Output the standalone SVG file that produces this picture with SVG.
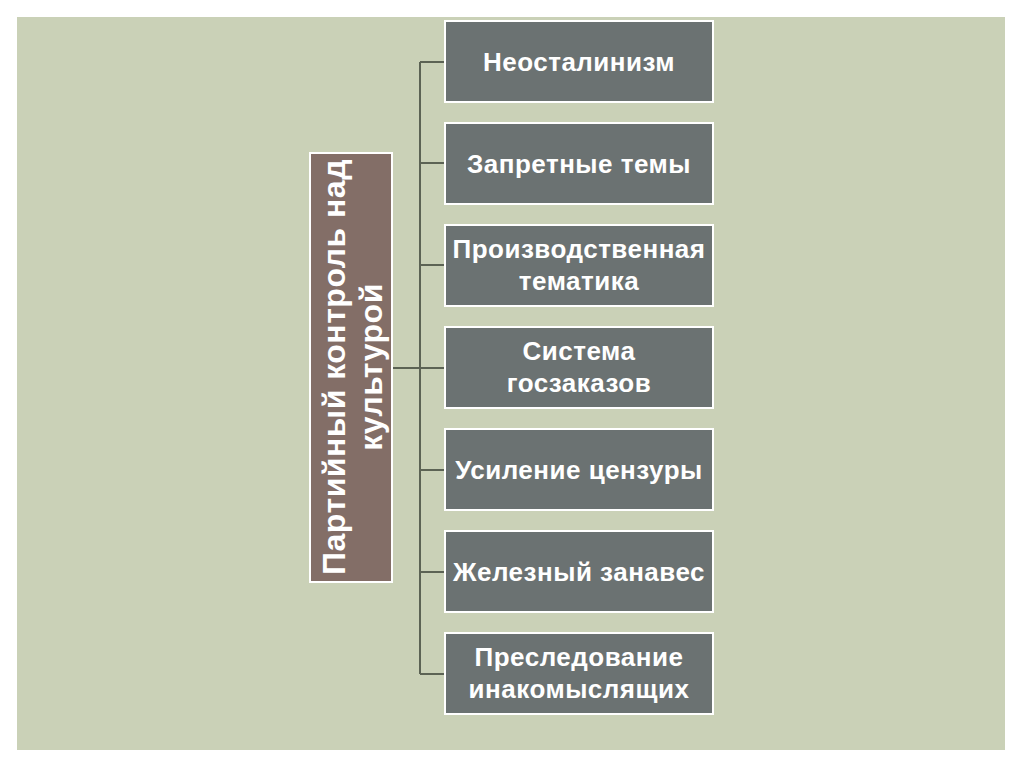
<svg xmlns="http://www.w3.org/2000/svg" width="1024" height="768" viewBox="0 0 1024 768">
<style>
.box{fill:#6b7272;stroke:#ffffff;stroke-width:2}
.t{font-family:"Liberation Sans",Arial,sans-serif;font-weight:bold;font-size:26px;letter-spacing:0.5px;fill:#ffffff;text-anchor:middle}
.c{fill:none;stroke:#5c6354;stroke-width:2}
</style>
<rect x="0" y="0" width="1024" height="768" fill="#ffffff"/>
<rect x="17" y="17" width="988" height="733" fill="#cad1b7"/>
<g id="connectors">
<path class="c" d="M420 62V674M392 368H420M420 62H445M420 163H445M420 265H445M420 368H445M420 470H445M420 572H445M420 674H445"/>
</g>
<g id="root">
<rect x="310" y="153" width="82" height="429" fill="#836e67" stroke="#ffffff" stroke-width="2"/>
<text class="t" style="font-size:32px" transform="translate(351,367) rotate(-90)"><tspan x="0" y="-6">Партийный контроль над</tspan><tspan x="0" y="31">культурой</tspan></text>
</g>
<g id="n1"><rect class="box" x="445" y="21" width="268" height="81"/><text class="t" x="579" y="71">Неосталинизм</text></g>
<g id="n2"><rect class="box" x="445" y="123" width="268" height="81"/><text class="t" x="579" y="173">Запретные темы</text></g>
<g id="n3"><rect class="box" x="445" y="225" width="268" height="81"/><text class="t" x="579" y="258">Производственная</text><text class="t" x="579" y="290">тематика</text></g>
<g id="n4"><rect class="box" x="445" y="327" width="268" height="81"/><text class="t" x="579" y="360">Система</text><text class="t" x="579" y="392">госзаказов</text></g>
<g id="n5"><rect class="box" x="445" y="429" width="268" height="81"/><text class="t" x="579" y="479">Усиление цензуры</text></g>
<g id="n6"><rect class="box" x="445" y="531" width="268" height="81"/><text class="t" x="579" y="581">Железный занавес</text></g>
<g id="n7"><rect class="box" x="445" y="633" width="268" height="81"/><text class="t" x="579" y="666">Преследование</text><text class="t" x="579" y="698">инакомыслящих</text></g>
</svg>
